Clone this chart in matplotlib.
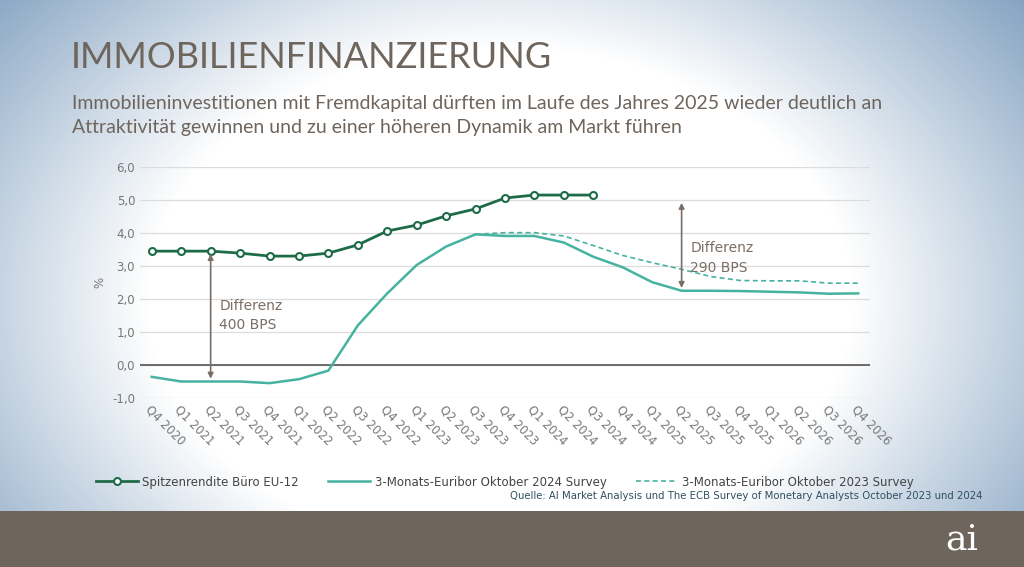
import numpy as np
import matplotlib
matplotlib.use("Agg")
import matplotlib.pyplot as plt

quarters = ["Q4 2020","Q1 2021","Q2 2021","Q3 2021","Q4 2021","Q1 2022","Q2 2022","Q3 2022","Q4 2022",
            "Q1 2023","Q2 2023","Q3 2023","Q4 2023","Q1 2024","Q2 2024","Q3 2024","Q4 2024",
            "Q1 2025","Q2 2025","Q3 2025","Q4 2025","Q1 2026","Q2 2026","Q3 2026","Q4 2026"]
spitzenrendite = [3.45,3.45,3.45,3.39,3.30,3.30,3.39,3.64,4.06,4.24,4.52,4.73,5.06,5.15,5.15,5.15]
euribor_2024 = [-0.36,-0.50,-0.50,-0.50,-0.55,-0.43,-0.17,1.20,2.17,3.03,3.59,3.96,3.91,3.91,3.71,3.28,2.96,
                2.51,2.25,2.25,2.24,2.22,2.20,2.16,2.17]
euribor_2023 = [3.96,4.01,4.01,3.91,3.62,3.32,3.10,2.90,2.68,2.56,2.55,2.55,2.48,2.48]
euribor_2023_start = 11

fig = plt.figure(figsize=(10.24,5.67), dpi=100)
bg = fig.add_axes([0,0,1,1]); bg.set_axis_off()
yy, xx = np.mgrid[0:567, 0:1024]
d = np.sqrt(((xx-500)/640.0)**2 + ((yy-300)/460.0)**2)
t = np.clip((d-0.55)/0.5, 0, 1)[..., None]
c0 = np.array([1,1,1]); c1 = np.array([0.52,0.64,0.76])
img = c0*(1-t) + c1*t
img[511:] = np.array([110,101,93])/255
bg.imshow(img, extent=[0,1024,567,0], aspect="auto")
bg.set_xlim(0,1024); bg.set_ylim(567,0)
bg.text(71,58,"IMMOBILIENFINANZIERUNG", fontsize=26, color="#6e655d", fontfamily="Lato", va="center")
bg.text(72,103,"Immobilieninvestitionen mit Fremdkapital dürften im Laufe des Jahres 2025 wieder deutlich an", fontsize=14, color="#6e655d", fontfamily="Lato", va="center")
bg.text(72,127,"Attraktivität gewinnen und zu einer höheren Dynamik am Markt führen", fontsize=14, color="#6e655d", fontfamily="Lato", va="center")
bg.text(983,496,"Quelle: AI Market Analysis und The ECB Survey of Monetary Analysts October 2023 und 2024", fontsize=7.3, color="#2f4f60", ha="right", va="center")
bg.text(962,540,"ai", fontsize=26, color="white", fontfamily="DejaVu Serif", ha="center", va="center")

ax = fig.add_axes([140/1024, 1-398/567, (870-140)/1024, (398-167)/567])
ax.patch.set_alpha(0)
x = np.arange(len(quarters))
for v in np.arange(-1, 6.01, 1):
    ax.axhline(v, color="#dcdcdc", lw=0.9, zorder=0)
ax.axhline(0, color="#555555", lw=1.2, zorder=1)
ax.plot(x[:len(spitzenrendite)], spitzenrendite, color="#1e6b4a", lw=2, marker="o", ms=5,
        mfc="white", mec="#1e6b4a", mew=1.5, label="Spitzenrendite Büro EU-12", zorder=3)
ax.plot(x, euribor_2024, color="#45b3a0", lw=1.8, label="3-Monats-Euribor Oktober 2024 Survey", zorder=2)
ax.plot(x[euribor_2023_start:euribor_2023_start+len(euribor_2023)], euribor_2023, color="#45b3a0", lw=1.2,
        ls=(0,(3,2)), label="3-Monats-Euribor Oktober 2023 Survey", zorder=2)
ap = dict(arrowstyle="<|-|>", color="#7a6e66", lw=1.2, mutation_scale=8)
ax.annotate("", xy=(2, spitzenrendite[2]), xytext=(2, euribor_2024[2]), arrowprops=ap)
ax.annotate("", xy=(18, 5.0), xytext=(18, euribor_2024[18]), arrowprops=ap)
ax.text(2.3, 1.5, "Differenz\n400 BPS", color="#7a6e66", fontsize=10, va="center", linespacing=1.5)
ax.text(18.3, 3.25, "Differenz\n290 BPS", color="#7a6e66", fontsize=10, va="center", linespacing=1.5)
ax.set_xlim(-0.4, 24.4); ax.set_ylim(-1, 6)
ax.set_yticks(np.arange(-1, 6.01, 1))
ax.set_yticklabels([f"{v:.1f}".replace(".", ",") for v in np.arange(-1, 6.01, 1)], color="#777777", fontsize=8.5)
ax.set_xticks(x); ax.set_xticklabels(quarters, rotation=-45, ha="left", rotation_mode="anchor", color="#777777", fontsize=8.5)
ax.tick_params(length=0)
ax.set_ylabel("%", color="#777777", fontsize=8.5)
for s in ax.spines.values(): s.set_visible(False)
ax.legend(loc="upper center", bbox_to_anchor=(0.5, -0.29), ncol=3, frameon=False, fontsize=8.5,
          labelcolor="#444444", handlelength=3.5, columnspacing=2.5, handletextpad=0.4)
fig.savefig("out.png", dpi=100)
